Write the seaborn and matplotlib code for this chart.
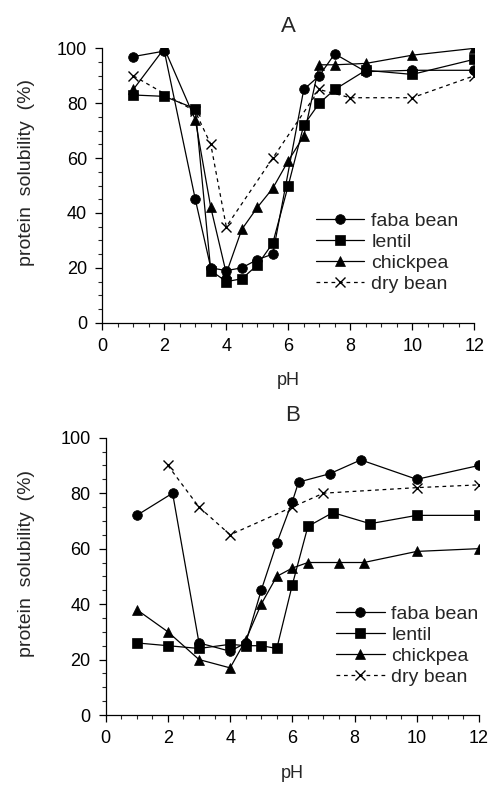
import matplotlib
matplotlib.use("Agg")
import matplotlib.pyplot as plt
from matplotlib.ticker import MultipleLocator
from matplotlib.lines import Line2D
import pandas as pd
import seaborn as sns

# ---- Panel A: solubility vs pH ----
faba_a_ph = [1, 2, 3, 3.5, 4, 4.5, 5, 5.5, 6.5, 7, 7.5, 8.5, 10, 12]
faba_a_sol = [97, 99, 45, 20, 19, 20, 23, 25, 85, 90, 98, 91.5, 92, 92]
lentil_a_ph = [1, 2, 3, 3.5, 4, 4.5, 5, 5.5, 6, 6.5, 7, 7.5, 8.5, 10, 12]
lentil_a_sol = [83, 82.5, 78, 19, 15, 16, 21, 29, 50, 72, 80, 85, 92, 90.5, 96]
chick_a_ph = [1, 2, 3, 3.5, 4, 4.5, 5, 5.5, 6, 6.5, 7, 7.5, 8.5, 10, 12]
chick_a_sol = [85, 100, 74, 42, 18, 34, 42, 49, 59, 68, 94, 94, 94.5, 97.5, 100]
dry_a_ph = [1, 3, 3.5, 4, 5.5, 7, 8, 10, 12]
dry_a_sol = [90, 77, 65, 35, 60, 85, 82, 82, 90]

# ---- Panel B ----
faba_b_ph = [1, 2.15, 3, 4, 4.5, 5, 5.5, 6, 6.2, 7.2, 8.2, 10, 12]
faba_b_sol = [72, 80, 26, 23, 26, 45, 62, 77, 84, 87, 92, 85, 90]
lentil_b_ph = [1, 2, 3, 4, 4.5, 5, 5.5, 6, 6.5, 7.3, 8.5, 10, 12]
lentil_b_sol = [26, 25, 24, 25.5, 25, 25, 24, 47, 68, 73, 69, 72, 72]
chick_b_ph = [1, 2, 3, 4, 4.5, 5, 5.5, 6, 6.5, 7.5, 8.3, 10, 12]
chick_b_sol = [38, 30, 20, 17, 27, 40, 50, 53, 55, 55, 55, 59, 60]
dry_b_ph = [2, 3, 4, 6, 7, 10, 12]
dry_b_sol = [90, 75, 65, 75, 80, 82, 83]

legumes = ["faba bean", "lentil", "chickpea", "dry bean"]
x_ticks = [0, 2, 4, 6, 8, 10, 12]
y_ticks = [0, 20, 40, 60, 80, 100]

styles = {
    "faba bean": dict(marker="o", ms=7, ls="-"),
    "lentil": dict(marker="s", ms=6.5, ls="-"),
    "chickpea": dict(marker="^", ms=7, ls="-"),
    "dry bean": dict(marker="x", ms=7, ls=(0, (3, 3))),
}


def long_frame(series):
    rows = []
    for name, (ph, sol) in zip(legumes, series):
        for p, s in zip(ph, sol):
            rows.append({"pH": p, "solubility": s, "legume": name})
    return pd.DataFrame(rows)


sns.set_theme(style="ticks")
plt.rcParams["font.family"] = ["Liberation Sans", "DejaVu Sans"]

fig = plt.figure(figsize=(4.95, 7.86), dpi=100)
ax_a = fig.add_axes([0.2067, 0.5894, 0.7513, 0.3491])
ax_b = fig.add_axes([0.2135, 0.0903, 0.7542, 0.3528])

panels = [
    (ax_a, "A", long_frame([(faba_a_ph, faba_a_sol), (lentil_a_ph, lentil_a_sol),
                            (chick_a_ph, chick_a_sol), (dry_a_ph, dry_a_sol)]),
     (0.574, 0.403), -0.181),
    (ax_b, "B", long_frame([(faba_b_ph, faba_b_sol), (lentil_b_ph, lentil_b_sol),
                            (chick_b_ph, chick_b_sol), (dry_b_ph, dry_b_sol)]),
     (0.617, 0.396), -0.189),
]

for ax, title, df, leg_anchor, ylab_x in panels:
    for name in legumes:
        st = styles[name]
        sub = df[df["legume"] == name]
        sns.lineplot(data=sub, x="pH", y="solubility", ax=ax, color="black",
                     linewidth=0.9, linestyle=st["ls"], marker=st["marker"],
                     markersize=st["ms"], markeredgewidth=1.0 if st["marker"] == "x" else 0.5,
                     markeredgecolor="black", markerfacecolor="black",
                     sort=False, estimator=None, legend=False)
    ax.set_xlim(0, 12)
    ax.set_ylim(0, 100)
    ax.set_xticks(x_ticks)
    ax.set_yticks(y_ticks)
    ax.xaxis.set_minor_locator(MultipleLocator(0.5))
    ax.yaxis.set_minor_locator(MultipleLocator(5))
    ax.tick_params(which="major", direction="out", length=5, width=0.9,
                   labelsize=13, colors="black")
    ax.tick_params(axis="x", which="major", pad=6)
    ax.tick_params(axis="y", which="major", pad=6)
    ax.tick_params(which="minor", direction="out", length=3, width=0.8)
    for side in ("top", "right"):
        ax.spines[side].set_visible(False)
    for side in ("left", "bottom"):
        ax.spines[side].set_linewidth(0.9)
        ax.spines[side].set_color("black")
    ax.set_xlabel("pH", fontsize=13, labelpad=12.5)
    ax.set_ylabel("protein  solubility  (%)", fontsize=14)
    ax.yaxis.set_label_coords(ylab_x, 0.548)
    ax.set_title(title, fontsize=16, pad=12)

    handles = [Line2D([], [], color="black", lw=0.9, ls=styles[n]["ls"],
                      marker=styles[n]["marker"], ms=styles[n]["ms"],
                      mew=1.0 if styles[n]["marker"] == "x" else 0.5)
               for n in legumes]
    ax.legend(handles, legumes, loc="upper left", bbox_to_anchor=leg_anchor,
              frameon=False, fontsize=14, handlelength=2.5, handletextpad=0.35,
              labelspacing=0.18, borderpad=0, borderaxespad=0)

fig.savefig("out.png", dpi=100)
